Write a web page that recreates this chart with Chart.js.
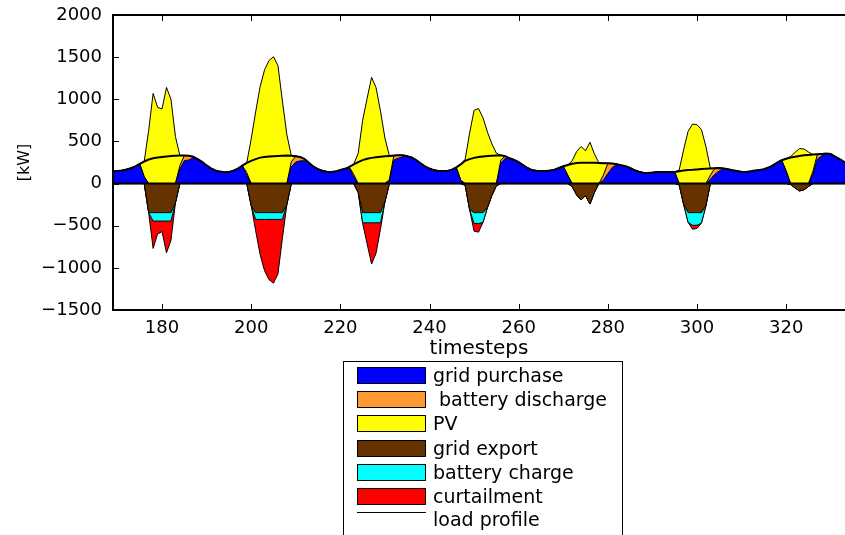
<!DOCTYPE html>
<html>
<head>
<meta charset="utf-8">
<script src="https://cdn.jsdelivr.net/npm/chart.js@4.4.1/dist/chart.umd.min.js"></script>
<style>
html,body{margin:0;padding:0;background:#fff;}
canvas{display:block;}
</style>
</head>
<body>
<canvas id="c" width="845" height="535"></canvas>
<script>
const timesteps = [
169,170,171,172,173,174,175,176,177,178,
179,180,181,182,183,184,185,186,187,188,
189,190,191,192,193,194,195,196,197,198,
199,200,201,202,203,204,205,206,207,208,
209,210,211,212,213,214,215,216,217,218,
219,220,221,222,223,224,225,226,227,228,
229,230,231,232,233,234,235,236,237,238,
239,240,241,242,243,244,245,246,247,248,
249,250,251,252,253,254,255,256,257,258,
259,260,261,262,263,264,265,266,267,268,
269,270,271,272,273,274,275,276,277,278,
279,280,281,282,283,284,285,286,287,288,
289,290,291,292,293,294,295,296,297,298,
299,300,301,302,303,304,305,306,307,308,
309,310,311,312,313,314,315,316,317,318,
319,320,321,322,323,324,325,326,327,328,
329,330,331,332,333,334];

const gridPurchase = [
146,150,156,168,182,205,235,80,0,0,
0,0,0,0,0,172,272,280,306,290,
257,215,180,155,142,134,138,152,178,212,
100,0,0,0,0,0,0,0,0,0,
200,255,270,270,245,200,172,152,140,138,
145,160,175,180,80,0,0,0,0,0,
0,0,30,280,300,320,325,309,280,240,
205,178,160,150,148,150,165,192,40,0,
0,0,0,0,0,0,0,240,300,300,
280,255,220,185,160,152,150,150,155,165,
185,205,100,0,0,0,0,0,0,0,
40,120,190,225,218,205,185,160,140,128,
125,130,137,138,137,138,138,0,0,0,
0,0,0,0,50,110,150,180,170,158,
148,140,138,145,155,160,170,190,215,250,
277,150,0,0,0,0,0,110,290,330,
356,350,320,290,257,240];

const batteryDischarge = [
0,0,0,0,0,0,0,0,0,0,
0,0,0,0,0,40,60,50,12,0,
0,0,0,0,0,0,0,0,0,0,
30,0,0,0,0,0,0,0,0,0,
60,70,45,20,0,0,0,0,0,0,
0,0,0,18,30,0,0,0,0,0,
0,0,20,52,35,16,0,0,0,0,
0,0,0,0,0,0,0,0,0,0,
0,0,0,0,0,0,0,40,25,0,
0,0,0,0,0,0,0,0,0,0,
0,0,0,0,0,0,0,0,0,0,
60,120,48,5,0,0,0,0,0,0,
0,0,0,0,0,0,0,0,0,0,
0,0,0,0,50,73,35,0,0,0,
0,0,0,0,0,0,0,0,0,0,
0,0,0,0,0,0,0,34,58,22,
0,0,0,0,0,0];

const pv = [
0,0,0,0,0,0,0,182,630,1070,
905,885,1141,1000,560,120,0,0,0,0,
0,0,0,0,0,0,0,0,0,0,
115,530,850,1150,1350,1460,1505,1400,980,580,
70,0,0,0,0,0,0,0,0,0,
0,0,0,0,118,360,750,1010,1260,1140,
860,540,278,0,0,0,0,0,0,0,
0,0,0,0,0,0,0,0,188,290,
600,870,890,780,610,470,360,56,0,0,
0,0,0,0,0,0,0,0,0,0,
0,0,120,270,380,440,390,490,350,245,
142,0,0,0,0,0,0,0,0,0,
0,0,0,0,0,0,0,160,400,620,
705,700,640,440,80,0,0,0,0,0,
0,0,0,0,0,0,0,0,0,0,
0,145,320,370,415,410,375,200,0,0,
0,0,0,0,0,0];

const gridExport = [
0,0,0,0,0,0,0,0,-345,-345,
-345,-345,-345,-345,-230,0,0,0,0,0,
0,0,0,0,0,0,0,0,0,0,
0,-260,-345,-345,-345,-345,-345,-345,-345,-248,
0,0,0,0,0,0,0,0,0,0,
0,0,0,0,0,-105,-345,-345,-345,-345,
-345,-216,0,0,0,0,0,0,0,0,
0,0,0,0,0,0,0,0,0,-20,
-310,-345,-345,-345,-284,-140,-26,0,0,0,
0,0,0,0,0,0,0,0,0,0,
0,0,0,-35,-135,-194,-143,-243,-104,0,
0,0,0,0,0,0,0,0,0,0,
0,0,0,0,0,0,0,-15,-245,-345,
-345,-345,-345,-264,0,0,0,0,0,0,
0,0,0,0,0,0,0,0,0,0,
0,0,-10,-52,-87,-74,-35,0,0,0,
0,0,0,0,0,0];

const batteryCharge = [
0,0,0,0,0,0,0,0,0,-100,
-100,-100,-100,-100,0,0,0,0,0,0,
0,0,0,0,0,0,0,0,0,0,
0,0,-80,-80,-80,-80,-80,-80,-80,0,
0,0,0,0,0,0,0,0,0,0,
0,0,0,0,0,0,-120,-120,-120,-120,
-120,0,0,0,0,0,0,0,0,0,
0,0,0,0,0,0,0,0,0,0,
0,-130,-130,-115,0,0,0,0,0,0,
0,0,0,0,0,0,0,0,0,0,
0,0,0,0,0,0,0,0,0,0,
0,0,0,0,0,0,0,0,0,0,
0,0,0,0,0,0,0,0,0,-115,
-150,-150,-123,0,0,0,0,0,0,0,
0,0,0,0,0,0,0,0,0,0,
0,0,0,0,0,0,0,0,0,0,
0,0,0,0,0,0];

const curtailment = [
0,0,0,0,0,0,0,0,0,-325,
-152,-126,-376,-229,0,0,0,0,0,0,
0,0,0,0,0,0,0,0,0,0,
0,0,-135,-417,-610,-715,-756,-648,-225,0,
0,0,0,0,0,0,0,0,0,0,
0,0,0,0,0,0,-7,-250,-490,-363,
-77,0,0,0,0,0,0,0,0,0,
0,0,0,0,0,0,0,0,0,0,
0,-90,-101,0,0,0,0,0,0,0,
0,0,0,0,0,0,0,0,0,0,
0,0,0,0,0,0,0,0,0,0,
0,0,0,0,0,0,0,0,0,0,
0,0,0,0,0,0,0,0,0,0,
-47,-37,0,0,0,0,0,0,0,0,
0,0,0,0,0,0,0,0,0,0,
0,0,0,0,0,0,0,0,0,0,
0,0,0,0,0,0];

const loadProfile = [
146,150,156,168,182,205,235,262,285,300,
308,314,320,326,330,332,332,330,318,290,
257,215,180,155,142,134,138,152,178,212,
245,270,290,308,315,320,324,327,330,332,
330,325,315,290,245,200,172,152,140,138,
145,160,175,198,228,255,278,295,305,312,
318,324,328,332,335,336,325,309,280,240,
205,178,160,150,148,150,165,192,228,270,
290,305,314,320,326,330,334,336,325,300,
280,255,220,185,160,152,150,150,155,165,
185,205,220,235,245,246,247,247,246,245,
242,240,238,230,218,205,185,160,140,128,
125,130,137,138,137,138,138,145,155,160,
163,168,172,176,180,183,185,180,170,158,
148,140,138,145,155,160,170,190,215,250,
277,295,310,318,328,336,340,344,348,352,
356,350,320,290,257,240];

const seriesLabels = ['grid purchase', ' battery discharge', 'PV', 'grid export', 'battery charge', 'curtailment', 'load profile'];
const xTickValues = [180, 200, 220, 240, 260, 280, 300, 320];
const yTickValues = [-1500, -1000, -500, 0, 500, 1000, 1500, 2000];
const xTitle = 'timesteps';
const yTitle = '[kW]';

const pts = arr => timesteps.map((t, i) => ({x: t, y: arr[i]}));
const area = (label, arr, color, fill, stack) => ({
  label, data: pts(arr), backgroundColor: color, borderColor: '#000',
  borderWidth: 1, fill, stack, pointRadius: 0, tension: 0
});

const datasets = [
  area(seriesLabels[0], gridPurchase, '#0000ff', 'origin', 'pos'),
  area(seriesLabels[1], batteryDischarge, '#ff9933', '-1', 'pos'),
  area(seriesLabels[2], pv, '#ffff00', '-1', 'pos'),
  area(seriesLabels[3], gridExport, '#663300', 'origin', 'neg'),
  area(seriesLabels[4], batteryCharge, '#00ffff', '-1', 'neg'),
  area(seriesLabels[5], curtailment, '#ff0000', '-1', 'neg'),
  {label: seriesLabels[6], data: pts(loadProfile), borderColor: '#000', backgroundColor: '#000',
   borderWidth: 2, fill: false, stack: 'load', order: -1, pointRadius: 0, tension: 0}
];

const FONT = 'DejaVu Sans';

const framePlugin = {
  id: 'frame',
  afterDatasetsDraw(chart) {
    const {ctx, chartArea: a, scales: {y}} = chart;
    const y0 = y.getPixelForValue(0);
    ctx.save();
    ctx.strokeStyle = '#000';
    ctx.lineWidth = 2;
    ctx.beginPath();
    ctx.moveTo(a.left, y0);
    ctx.lineTo(a.right, y0);
    ctx.stroke();
    ctx.restore();
  },
  afterDraw(chart) {
    const {ctx, chartArea: a, scales: {x, y}} = chart;
    ctx.save();
    ctx.strokeStyle = '#000';
    ctx.lineWidth = 1;
    ctx.beginPath();
    x.ticks.forEach(t => {
      const px = Math.round(x.getPixelForValue(t.value)) + 0.5;
      ctx.moveTo(px, a.bottom); ctx.lineTo(px, a.bottom - 6);
      ctx.moveTo(px, a.top); ctx.lineTo(px, a.top + 6);
    });
    y.ticks.forEach(t => {
      const py = Math.round(y.getPixelForValue(t.value)) + 0.5;
      ctx.moveTo(a.left, py); ctx.lineTo(a.left + 6, py);
    });
    ctx.stroke();
    ctx.lineWidth = 2;
    ctx.beginPath();
    ctx.moveTo(a.right + 2, a.top);
    ctx.lineTo(a.left, a.top);
    ctx.lineTo(a.left, a.bottom);
    ctx.lineTo(a.right + 2, a.bottom);
    ctx.stroke();
    ctx.restore();
  }
};

const legendPlugin = {
  id: 'matlabLegend',
  afterDraw(chart) {
    const ctx = chart.ctx;
    ctx.save();
    ctx.fillStyle = '#fff';
    ctx.fillRect(344, 362, 278, 180);
    ctx.strokeStyle = '#000';
    ctx.lineWidth = 1;
    ctx.strokeRect(343.5, 361.5, 279, 200);
    ctx.font = '19px "' + FONT + '"';
    ctx.textBaseline = 'middle';
    ctx.textAlign = 'left';
    chart.data.datasets.forEach((d, i) => {
      const top = Math.round(367 + 24.2 * i);
      if (d.fill === false) {
        ctx.strokeStyle = d.borderColor;
        ctx.lineWidth = 1;
        ctx.beginPath();
        ctx.moveTo(357, 512.5);
        ctx.lineTo(426, 512.5);
        ctx.stroke();
        ctx.fillStyle = '#000';
        ctx.fillText(d.label, 433, 521);
      } else {
        ctx.fillStyle = d.backgroundColor;
        ctx.fillRect(357, top, 69, 17);
        ctx.strokeStyle = '#000';
        ctx.lineWidth = 1;
        ctx.strokeRect(357.5, top + 0.5, 68, 16);
        ctx.fillStyle = '#000';
        ctx.fillText(d.label, 433, top + 10);
      }
    });
    ctx.restore();
  }
};

new Chart(document.getElementById('c'), {
  type: 'line',
  data: {datasets},
  options: {
    responsive: false,
    animation: false,
    devicePixelRatio: 1,
    layout: {padding: {left: 0, right: 0, top: 15, bottom: 173}},
    plugins: {legend: {display: false}, tooltip: {enabled: false}},
    elements: {point: {radius: 0}, line: {tension: 0}},
    scales: {
      x: {
        type: 'linear', min: 169, max: 333.2,
        grid: {display: false, drawTicks: false},
        border: {display: false},
        afterBuildTicks: s => { s.ticks = xTickValues.map(v => ({value: v})); },
        afterFit: s => { s.height = 52; s.paddingLeft = 0; s.paddingRight = 0; },
        ticks: {padding: 8, color: '#000', font: {family: FONT, size: 18}, maxRotation: 0, autoSkip: false,
                callback: v => String(v)},
        title: {display: true, text: xTitle, color: '#000', font: {family: FONT, size: 20}, padding: {top: 0, bottom: 1}}
      },
      y: {
        stacked: true, min: -1500, max: 2000,
        grid: {display: false, drawTicks: false},
        border: {display: false},
        afterBuildTicks: s => { s.ticks = yTickValues.map(v => ({value: v})); },
        afterFit: s => { s.width = 113; s.paddingTop = 0; s.paddingBottom = 0; },
        ticks: {padding: 11, color: '#000', font: {family: FONT, size: 18},
                callback: v => String(v).replace('-', '\u2212')},
        title: {display: true, text: yTitle, color: '#000', font: {family: FONT, size: 16}, padding: {top: 15, bottom: 0}}
      }
    }
  },
  plugins: [framePlugin, legendPlugin]
});
</script>
</body>
</html>
